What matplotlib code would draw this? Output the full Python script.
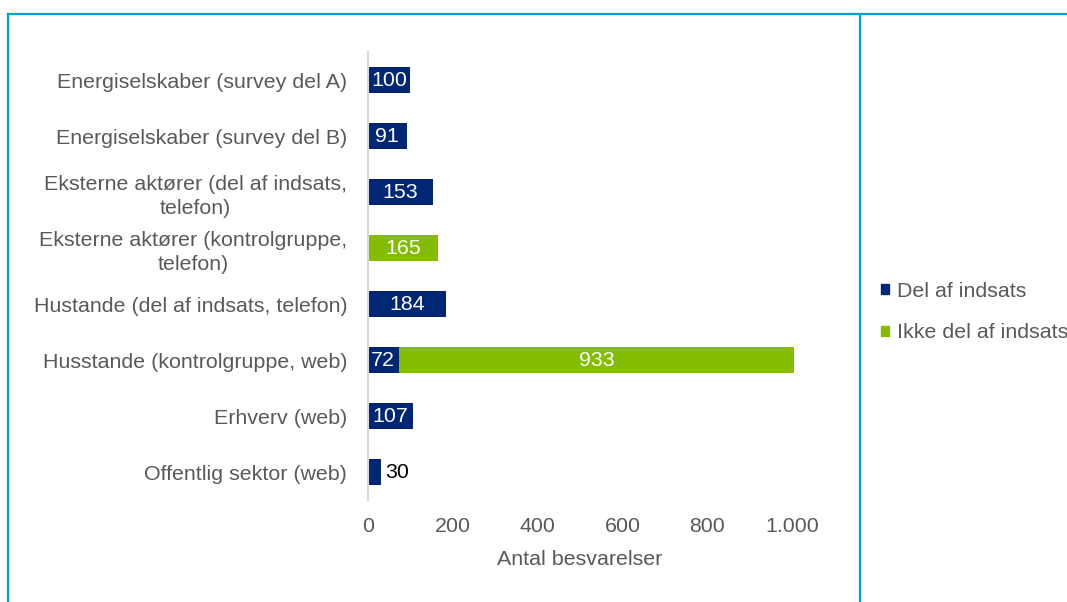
"""Antal besvarelser fordelt på respondentgrupper."""
import numpy as np
import matplotlib.pyplot as plt
from matplotlib.lines import Line2D
from matplotlib.patches import Patch

plt.rcParams["font.family"] = ["Liberation Sans", "DejaVu Sans"]

# --- Data ---
categories = [
    "Energiselskaber (survey del A)",
    "Energiselskaber (survey del B)",
    "Eksterne aktører (del af indsats,\ntelefon)",
    "Eksterne aktører (kontrolgruppe,\ntelefon)",
    "Hustande (del af indsats, telefon)",
    "Husstande (kontrolgruppe, web)",
    "Erhverv (web)",
    "Offentlig sektor (web)",
]
del_af_indsats = [100, 91, 153, 0, 184, 72, 107, 30]
ikke_del_af_indsats = [0, 0, 0, 165, 0, 933, 0, 0]
x_ticks = [0, 200, 400, 600, 800, 1000]
x_tick_labels = ["0", "200", "400", "600", "800", "1.000"]

NAVY = "#002776"
GREEN = "#84bd00"
GREY_TXT = "#595959"
FRAME = "#00a0dc"
FS = 15.4

W, H = 1067, 602
fig = plt.figure(figsize=(W / 100, H / 100), dpi=100)
ax = fig.add_axes([368 / W, 1 - 500 / H, (792 - 368) / W, (500 - 52) / H])

y = np.arange(len(categories))
bar_h = 0.48
ax.barh(y, del_af_indsats, height=bar_h, color=NAVY, clip_on=False)
ax.barh(y, ikke_del_af_indsats, left=del_af_indsats, height=bar_h,
        color=GREEN, clip_on=False)

# data labels
for yi, v1, v2 in zip(y, del_af_indsats, ikke_del_af_indsats):
    if v1 > 0:
        if v1 >= 60:
            ax.text(v1 / 2, yi, str(v1), ha="center", va="center",
                    color="white", fontsize=FS)
        else:
            ax.text(v1 + 10, yi, str(v1), ha="left", va="center",
                    color="black", fontsize=FS)
    if v2 > 0:
        ax.text(v1 + v2 / 2, yi, str(v2), ha="center", va="center",
                color="white", fontsize=FS)

ax.set_ylim(len(categories) - 0.5, -0.5)
ax.set_xlim(0, 1000)
ax.set_yticks(y)
ax.set_yticklabels(categories, fontsize=FS, color=GREY_TXT,
                   multialignment="center", linespacing=1.3)
ax.set_xticks(x_ticks)
ax.set_xticklabels(x_tick_labels, fontsize=FS, color=GREY_TXT)
ax.tick_params(axis="y", length=0, pad=15)
ax.tick_params(axis="x", length=0, pad=12)
ax.set_xlabel("Antal besvarelser", fontsize=FS, color=GREY_TXT, labelpad=10)

for s in ["top", "right", "bottom"]:
    ax.spines[s].set_visible(False)
ax.spines["left"].set_color("#d9d9d9")
ax.spines["left"].set_linewidth(1.5)

# legend
handles = [Patch(color=NAVY, label="Del af indsats"),
           Patch(color=GREEN, label="Ikke del af indsats")]
fig.legend(handles=handles, loc="center left",
           bbox_to_anchor=(862 / W, 1 - 312 / H), frameon=False,
           fontsize=FS, handlelength=0.35, handleheight=0.35,
           handletextpad=0.4, labelspacing=1.05, labelcolor=GREY_TXT)

# outer frame lines
lw = 1.6
fig.add_artist(Line2D([8 / W, 1], [1 - 14 / H, 1 - 14 / H],
                      transform=fig.transFigure, color=FRAME, lw=lw))
fig.add_artist(Line2D([8 / W, 8 / W], [0, 1 - 14 / H],
                      transform=fig.transFigure, color=FRAME, lw=lw))
fig.add_artist(Line2D([860 / W, 860 / W], [0, 1 - 14 / H],
                      transform=fig.transFigure, color=FRAME, lw=lw))

fig.savefig("out.png", dpi=100)
plt.close(fig)
